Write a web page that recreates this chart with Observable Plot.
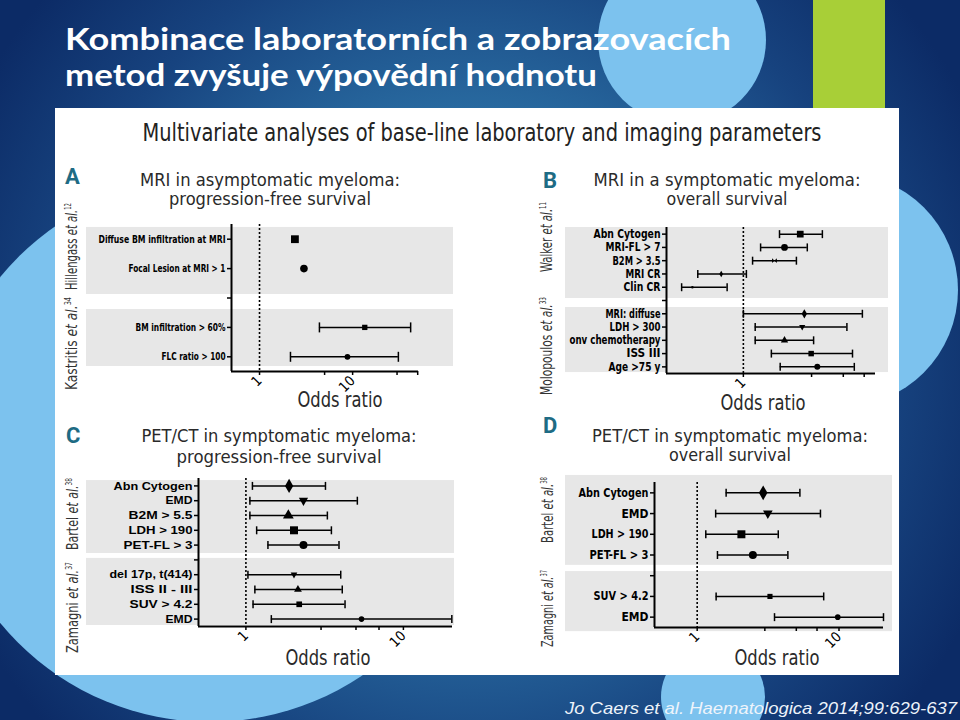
<!DOCTYPE html>
<html>
<head>
<meta charset="utf-8">
<script src="https://cdn.jsdelivr.net/npm/d3@7"></script>
<script src="https://cdn.jsdelivr.net/npm/@observablehq/plot@0.6"></script>
<style>
html, body { margin: 0; padding: 0; background: #0c2b66; }
#slide { position: relative; width: 960px; height: 720px; overflow: hidden; }
.abs { position: absolute; left: 0; top: 0; width: 960px; height: 720px; }
#err { position: absolute; left: 60px; top: 220px; width: 820px; color: red; font: 12px monospace; white-space: pre-wrap; }
</style>
</head>
<body>
<div id="slide">
  <svg id="bg" class="abs" width="960" height="720"></svg>
  <div id="plots" class="abs"></div>
  <svg id="fg" class="abs" width="960" height="720"></svg>
  <div id="err"></div>
</div>
<script>
// ---------------- DATA ----------------
const slideTitle = ["Kombinace laboratorních a zobrazovacích", "metod zvyšuje výpovědní hodnotu"];
const figureTitle = "Multivariate analyses of base-line laboratory and imaging parameters";
const citation = "Jo Caers et al. Haematologica 2014;99:629-637";
const axisTitle = "Odds ratio";

// Panel A
const aTitle = ["MRI in asymptomatic myeloma:", "progression-free survival"];
const aLabels = ["Diffuse BM infiltration at MRI", "Focal Lesion at MRI > 1", "", "BM infiltration > 60%", "FLC ratio > 100"];
const aOR   = [2.4, 3.0, null, 13.5, 8.8];
const aLow  = [null, null, null, 4.4, 2.15];
const aHigh = [null, null, null, 42, 31];
const aStudies = ["Hillengass", "Kastritis"];
const aRefs = ["12", "34"];
const aTicks = [1, 5, 10, 30, 50];
const aTickLabels = ["1", "", "10", "", ""];

// Panel B
const bTitle = ["MRI in a symptomatic myeloma:", "overall survival"];
const bLabels = ["Abn Cytogen", "MRI-FL > 7", "B2M > 3.5", "MRI CR", "Clin CR", "", "MRI: diffuse", "LDH > 300", "onv chemotherapy", "ISS III", "Age >75 y"];
const bOR   = [2.5, 1.94, 1.65, 0.70, 0.44, null, 2.67, 2.58, 1.94, 2.98, 3.29];
const bLow  = [1.79, 1.32, 1.16, 0.48, 0.37, null, 1.0, 1.21, 1.21, 1.57, 1.81];
const bHigh = [3.57, 2.8, 2.35, 1.05, 0.77, null, 6.8, 5.3, 3.1, 5.8, 5.97];
const bStudies = ["Walker", "Molopoulos"];
const bRefs = ["11", "33"];
const bTicks = [1, 3, 5, 7];
const bTickLabels = ["1", "", "", ""];

// Panel C
const cTitle = ["PET/CT in symptomatic myeloma:", "progression-free survival"];
const cLabels = ["Abn Cytogen", "EMD", "B2M > 5.5", "LDH > 190", "PET-FL > 3", "", "del 17p, t(414)", "ISS II - III", "SUV > 4.2", "EMD"];
const cOR   = [1.88, 2.32, 1.86, 2.02, 2.32, null, 2.02, 2.14, 2.18, 5.42];
const cLow  = [1.10, 1.06, 1.06, 1.17, 1.38, null, 1.03, 1.14, 1.11, 1.45];
const cHigh = [3.2, 5.1, 3.29, 3.49, 3.9, null, 4.0, 4.09, 4.26, 20.3];
const cStudies = ["Bartel", "Zamagni"];
const cRefs = ["38", "37"];
const cTicks = [1, 3, 5, 7, 10];
const cTickLabels = ["1", "", "", "", "10"];

// Panel D
const dTitle = ["PET/CT in symptomatic myeloma:", "overall survival"];
const dLabels = ["Abn Cytogen", "EMD", "LDH > 190", "PET-FL > 3", "", "SUV > 4.2", "EMD"];
const dOR   = [2.92, 3.15, 2.05, 2.47, null, 3.26, 9.8];
const dLow  = [1.60, 1.35, 1.15, 1.39, null, 1.36, 3.51];
const dHigh = [5.3, 7.4, 3.73, 4.36, null, 7.8, 20.6];
const dStudies = ["Bartel", "Zamagni"];
const dRefs = ["38", "37"];
const dTicks = [1, 3, 5, 7, 10];
const dTickLabels = ["1", "", "", "", "10"];

// ---------------- STYLE / LAYOUT ----------------
const NARROW = "'Liberation Sans Narrow', 'DejaVu Sans Condensed', 'Roboto', 'Liberation Sans', sans-serif";
const SANS = "'Liberation Sans', Arial, sans-serif";

const shapes = {
  circle: d3.symbolCircle,
  square: d3.symbolSquare,
  diamond: d3.symbolDiamond,
  triangle: d3.symbolTriangle,
  triangleDown: {draw(ctx, size) { const r = Math.sqrt(size / Math.PI); ctx.moveTo(-r * 1.15, -r * 0.75); ctx.lineTo(r * 1.15, -r * 0.75); ctx.lineTo(0, r * 1.3); ctx.closePath(); }},
  bowtie: {draw(ctx, size) { const r = Math.sqrt(size / Math.PI); ctx.moveTo(-r, -r); ctx.lineTo(r, r); ctx.lineTo(r, -r); ctx.lineTo(-r, r); ctx.closePath(); }},
  cap: {draw(ctx, size) { const r = Math.sqrt(size / Math.PI); ctx.moveTo(0, -r); ctx.lineTo(0, r); }}
};

const panels = [
  { key: "A", title: aTitle, labels: aLabels, or: aOR, lo: aLow, hi: aHigh, studies: aStudies, refs: aRefs, ticks: aTicks, tickLabels: aTickLabels,
    domain: [0.5, 51],
    frame: {left: 231, right: 418, top: 224, bottom: 371}, bandX: [86, 453],
    bands: [[-0.4, 1.88], [2.39, 4.33]],
    box: {left: 55, top: 200, width: 425, height: 215},
    marker: ["square", "circle", null, "square", "circle"], size: [4.4, 3.8, 0, 3.0, 2.9], cap: 5,
    labelFont: {size: 11, family: NARROW, width: [127, 97, 0, 90, 64]},
    letterPos: [65, 184], titleCx: 270, titleY: [186, 205], titleW: [260, 202],
    oddsPos: [340, 407], oddsW: 85,
    studyPos: [[77, 246.5, 87], [77, 343.5, 93]] },
  { key: "B", title: bTitle, labels: bLabels, or: bOR, lo: bLow, hi: bHigh, studies: bStudies, refs: bRefs, ticks: bTicks, tickLabels: bTickLabels,
    domain: [0.29, 8.4],
    frame: {left: 666, right: 875, top: 227, bottom: 373}, bandX: [565, 888],
    bands: [[-0.5, 4.85], [5.53, 10.43]],
    box: {left: 530, top: 205, width: 370, height: 210},
    marker: ["square", "circle", "bowtie", "diamond", "circle", null, "diamond", "triangleDown", "triangle", "square", "circle"],
    size: [3.8, 3.4, 2.4, 2.0, 1.3, 0, 2.8, 2.7, 2.7, 3.1, 3.0], cap: 4,
    labelFont: {size: 12, family: NARROW, width: [67, 55, 48, 35, 37, 0, 55, 51, 91, 34, 52]},
    letterPos: [543, 188], titleCx: 727, titleY: [186, 205], titleW: [267, 121],
    oddsPos: [763, 410], oddsW: 85,
    studyPos: [[552, 237, 70], [552, 346, 98]] },
  { key: "C", title: cTitle, labels: cLabels, or: cOR, lo: cLow, hi: cHigh, studies: cStudies, refs: cRefs, ticks: cTicks, tickLabels: cTickLabels,
    domain: [0.5, 20.5],
    frame: {left: 198, right: 452, top: 478, bottom: 626}, bandX: [86, 454],
    bands: [[-0.36, 4.57], [4.9, 9.43]],
    box: {left: 55, top: 460, width: 425, height: 215},
    marker: ["diamond", "triangleDown", "triangle", "square", "circle", null, "triangleDown", "triangle", "square", "circle"],
    size: [4.3, 4.0, 4.0, 4.5, 4.0, 0, 2.9, 2.9, 3.2, 2.8], cap: 4,
    labelFont: {size: 11.5, family: SANS, width: [79, 27, 64, 64, 69, 0, 83, 62, 63, 27]},
    letterPos: [66, 443], titleCx: 279, titleY: [442, 463], titleW: [275, 205],
    oddsPos: [328, 665], oddsW: 85,
    studyPos: [[78, 514, 72], [78, 607.5, 91]] },
  { key: "D", title: dTitle, labels: dLabels, or: dOR, lo: dLow, hi: dHigh, studies: dStudies, refs: dRefs, ticks: dTicks, tickLabels: dTickLabels,
    domain: [0.5, 20.6],
    frame: {left: 654, right: 883, top: 482, bottom: 627}, bandX: [565, 892],
    bands: [[-0.84, 3.5], [3.8, 6.7]],
    box: {left: 530, top: 460, width: 370, height: 215},
    marker: ["diamond", "triangleDown", "square", "circle", null, "square", "circle"],
    size: [4.5, 4.2, 4.5, 4.0, 0, 2.9, 2.8], cap: 4,
    labelFont: {size: 12.5, family: NARROW, width: [70, 27, 57, 59, 0, 55, 27]},
    letterPos: [543, 433], titleCx: 730, titleY: [442, 461], titleW: [276, 122],
    oddsPos: [777, 665], oddsW: 85,
    studyPos: [[553, 510, 66], [553, 608.5, 77]] }
];

// ---------------- BACKGROUND ----------------
const bg = d3.select("#bg");
const defs = bg.append("defs");
const grad = defs.append("radialGradient").attr("id", "bggrad")
  .attr("gradientUnits", "userSpaceOnUse").attr("cx", 470).attr("cy", 360).attr("r", 560);
grad.append("stop").attr("offset", 0).attr("stop-color", "#3180b2");
grad.append("stop").attr("offset", 0.45).attr("stop-color", "#28699f");
grad.append("stop").attr("offset", 0.75).attr("stop-color", "#17437f");
grad.append("stop").attr("offset", 1).attr("stop-color", "#0c2b66");
bg.append("rect").attr("width", 960).attr("height", 720).attr("fill", "url(#bggrad)");
const lightBlue = "#7cc2ee";
bg.append("circle").attr("cx", 682).attr("cy", 40).attr("r", 84).attr("fill", lightBlue);
bg.append("circle").attr("cx", 841).attr("cy", 290).attr("r", 117).attr("fill", lightBlue);
bg.append("circle").attr("cx", 210).attr("cy", 450).attr("r", 272).attr("fill", lightBlue);
bg.append("circle").attr("cx", 713).attr("cy", 697).attr("r", 52).attr("fill", lightBlue);
bg.append("rect").attr("x", 813).attr("y", 0).attr("width", 72).attr("height", 108).attr("fill", "#a8cf37");
bg.append("rect").attr("x", 55).attr("y", 108).attr("width", 844).attr("height", 567).attr("fill", "#ffffff");

// ---------------- FOREST PLOTS ----------------
const errBox = document.getElementById("err");
function forest(p) {
  const n = p.labels.length;
  const rows = d3.range(n);
  const pts = rows.filter(i => p.or[i] != null).map(i => ({row: i, or: p.or[i], lo: p.lo[i], hi: p.hi[i]}));
  const ci = pts.filter(d => d.lo != null && d.hi != null);
  const bands = p.bands.map(([y1, y2]) => ({y1, y2}));
  const f = p.frame, b = p.box;
  const d0 = p.domain[0], d1 = p.domain[1];
  const marks = [
    Plot.rect(bands, {x1: () => d0, x2: () => d1, y1: "y1", y2: "y2", fill: "#e7e7e7",
      insetLeft: -(f.left - p.bandX[0]), insetRight: -(p.bandX[1] - f.right)}),
    Plot.ruleX([1], {stroke: "#000", strokeWidth: 1.6, strokeDasharray: "2,2"}),
    Plot.ruleY(ci, {y: "row", x1: "lo", x2: "hi", stroke: "#000", strokeWidth: 1.5}),
    Plot.dot(ci, {x: "lo", y: "row", symbol: shapes.cap, r: p.cap, stroke: "#000", fill: "none", strokeWidth: 1.5}),
    Plot.dot(ci, {x: "hi", y: "row", symbol: shapes.cap, r: p.cap, stroke: "#000", fill: "none", strokeWidth: 1.5}),
    ...pts.map(d => Plot.dot([d], {x: "or", y: "row", symbol: shapes[p.marker[d.row]], r: p.size[d.row], fill: "#000", stroke: "none"})),
    Plot.ruleX([d0], {stroke: "#000", strokeWidth: 2}),
    Plot.ruleY([n - 0.5], {stroke: "#000", strokeWidth: 2})
  ];
  const svg = Plot.plot({
    width: b.width, height: b.height,
    marginLeft: f.left - b.left, marginRight: b.left + b.width - f.right,
    marginTop: f.top - b.top, marginBottom: b.top + b.height - f.bottom,
    x: {type: "log", domain: p.domain, ticks: p.ticks, tickFormat: v => p.tickLabels[p.ticks.indexOf(v)] ?? "",
        tickRotate: -45, tickSize: 4, tickPadding: 3, label: null},
    y: {type: "linear", domain: [n - 0.5, -0.5], ticks: rows, tickFormat: i => p.labels[i] ?? "", tickSize: 4, tickPadding: 2, label: null},
    style: {background: "transparent", color: "#000", overflow: "visible", fontFamily: NARROW, maxWidth: "none"},
    marks
  });
  const s = d3.select(svg);
  // bring the implicit axes above the grey study bands
  s.selectAll('g[aria-label^="y-axis"], g[aria-label^="x-axis"]').each(function() { this.parentNode.appendChild(this); });
  s.selectAll('g[aria-label^="y-axis"] text')
    .attr("font-weight", "bold").attr("font-size", p.labelFont.size).attr("font-family", p.labelFont.family)
    .each(function() {
      const txt = this.textContent;
      const i = p.labels.indexOf(txt);
      const w = p.labelFont.width[i];
      if (txt && w) { this.setAttribute("textLength", w); this.setAttribute("lengthAdjust", "spacingAndGlyphs"); }
    });
  s.selectAll('g[aria-label^="x-axis"] text').attr("font-size", 14).attr("font-family", NARROW);
  s.selectAll('g[aria-label^="y-axis"] path, g[aria-label^="y-axis"] line, g[aria-label^="x-axis"] path, g[aria-label^="x-axis"] line')
    .attr("stroke-width", 1.5);
  svg.style.position = "absolute";
  svg.style.left = b.left + "px";
  svg.style.top = b.top + "px";
  svg.style.maxWidth = "none";
  svg.style.width = b.width + "px";
  svg.style.height = b.height + "px";
  document.getElementById("plots").appendChild(svg);
}
panels.forEach(p => { try { forest(p); } catch (e) { errBox.textContent += p.key + ": " + e + "\n" + (e.stack || "") + "\n"; } });

// ---------------- TEXT OVERLAY ----------------
const fg = d3.select("#fg").style("pointer-events", "none");
fg.append("text").attr("x", 65).attr("y", 50).attr("fill", "#fff").attr("font-family", "Lato, 'Noto Sans', sans-serif")
  .attr("font-weight", "bold").attr("font-size", 31).attr("textLength", 666).attr("lengthAdjust", "spacingAndGlyphs").text(slideTitle[0]);
fg.append("text").attr("x", 65).attr("y", 86).attr("fill", "#fff").attr("font-family", "Lato, 'Noto Sans', sans-serif")
  .attr("font-weight", "bold").attr("font-size", 31).attr("textLength", 532).attr("lengthAdjust", "spacingAndGlyphs").text(slideTitle[1]);
fg.append("text").attr("x", 482).attr("y", 141).attr("text-anchor", "middle").attr("fill", "#222")
  .attr("font-family", NARROW).attr("font-size", 25).attr("textLength", 679).attr("lengthAdjust", "spacingAndGlyphs").text(figureTitle);
fg.append("text").attr("x", 565).attr("y", 714).attr("fill", "#eef4fb").attr("font-family", SANS).attr("font-style", "italic")
  .attr("font-size", 17).attr("textLength", 392).attr("lengthAdjust", "spacingAndGlyphs").text(citation);

panels.forEach(p => {
  fg.append("text").attr("x", p.letterPos[0]).attr("y", p.letterPos[1]).attr("fill", "#1e6b84")
    .attr("font-family", "Roboto, sans-serif").attr("font-weight", "bold").attr("font-size", 22).text(p.key);
  p.title.forEach((t, i) => {
    fg.append("text").attr("x", p.titleCx).attr("y", p.titleY[i]).attr("text-anchor", "middle").attr("fill", "#2a2a2a")
      .attr("font-family", NARROW).attr("font-size", 18).attr("textLength", p.titleW[i]).attr("lengthAdjust", "spacingAndGlyphs").text(t);
  });
  fg.append("text").attr("x", p.oddsPos[0]).attr("y", p.oddsPos[1]).attr("text-anchor", "middle").attr("fill", "#2a2a2a")
    .attr("font-family", NARROW).attr("font-size", 22).attr("textLength", p.oddsW).attr("lengthAdjust", "spacingAndGlyphs").text(axisTitle);
  p.studies.forEach((s, i) => {
    const [x, y, len] = p.studyPos[i];
    const t = fg.append("text").attr("transform", `translate(${x},${y}) rotate(-90)`).attr("text-anchor", "middle")
      .attr("fill", "#333").attr("font-family", NARROW).attr("font-size", 15)
      .attr("textLength", len).attr("lengthAdjust", "spacingAndGlyphs");
    t.append("tspan").text(s + " ");
    t.append("tspan").attr("font-style", "italic").text("et al.");
    t.append("tspan").attr("font-size", 8).attr("dy", -6).text(p.refs[i]);
  });
});
</script>
</body>
</html>
